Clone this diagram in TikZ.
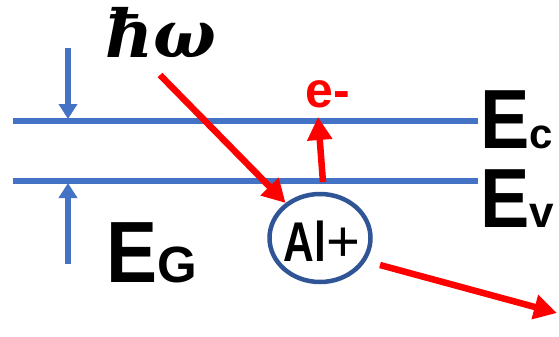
\documentclass[tikz,border=0pt]{standalone}
\usepackage{fontspec}
\setmainfont{Liberation Sans}
\newfontfamily\hwfont{DejaVu Serif}
\newfontfamily\bandfont{Liberation Sans}[FakeStretch=0.88]
\newfontfamily\ionfont{Liberation Sans}[FakeStretch=0.76]
\usepackage{xcolor}
\definecolor{bandBlue}{HTML}{4472C4}
\definecolor{ionBlue}{HTML}{2F5597}
\definecolor{rayRed}{HTML}{FF0000}
\usepackage{tikz}
\usetikzlibrary{arrows.meta,shapes.geometric}

\begin{document}
\begin{tikzpicture}[x=1pt, y=-1pt,
    band/.style={bandBlue, line width=5.5pt},
    gap/.style={bandBlue, line width=5.5pt, -{Triangle[width=18pt,length=15pt]}},
    ray/.style={rayRed, line width=6.5pt, -{Triangle[width=24pt,length=23pt]}},
    lbl/.style={inner sep=0pt}]
  \useasboundingbox (0,0) rectangle (559,337);
  % ---------- band edges ----------
  \coordinate (cl) at (13,121);
  \coordinate (cr) at (478,121);
  \coordinate (vl) at (13,181);
  \coordinate (vr) at (478,181);
  \draw[band] (cl) -- (cr);
  \draw[band] (vl) -- (vr);
  \node[lbl, anchor=base west] (ec) at (480,148)
    {\bfseries\fontsize{84}{84}\bandfont E\fontsize{42}{42}\selectfont\rmfamily c};
  \node[lbl, anchor=base west] (ev) at (480,227)
    {\bfseries\fontsize{84}{84}\bandfont E\fontsize{44}{44}\selectfont\rmfamily v};
  % ---------- gap width ----------
  \coordinate (gtop) at (68,48);
  \coordinate (gtoptip) at (68,119);
  \coordinate (gbot) at (68,264);
  \coordinate (gbottip) at (68,183);
  \draw[gap] (gtop) -- (gtoptip);
  \draw[gap] (gbot) -- (gbottip);
  \node[lbl, anchor=base west] (eg) at (106,282)
    {\bfseries\fontsize{87}{87}\bandfont E\fontsize{51}{51}\selectfont\rmfamily G};
  % ---------- photon, ion and electron ----------
  \node[lbl, anchor=base west] (hw) at (105,58)
    {\hwfont\itshape\bfseries\fontsize{66}{66}\selectfont ħω};
  \node[ellipse, draw=ionBlue, line width=4.5pt, minimum width=101pt,
    minimum height=88pt, inner sep=0pt] (al) at (320,238) {};
  \node[lbl, anchor=base] (alname) at (322,261)
    {\fontsize{56}{56}\selectfont{\ionfont\bfseries Al}{\fontsize{58}{58}\selectfont+}};
  \node[lbl, anchor=base west, text=rayRed] (e) at (305,107)
    {\bfseries\fontsize{50}{50}\selectfont e-};
  \coordinate (hwtail) at (160,75);
  \coordinate (vtop) at (323,182);
  \coordinate (ctip) at (318,117);
  \coordinate (outtail) at (380,265);
  \coordinate (outtip) at (557,313);
  \draw[ray] (hwtail) -- (al);
  \draw[ray] (vtop) -- (ctip);
  \draw[ray] (outtail) -- (outtip);
\end{tikzpicture}
\end{document}
